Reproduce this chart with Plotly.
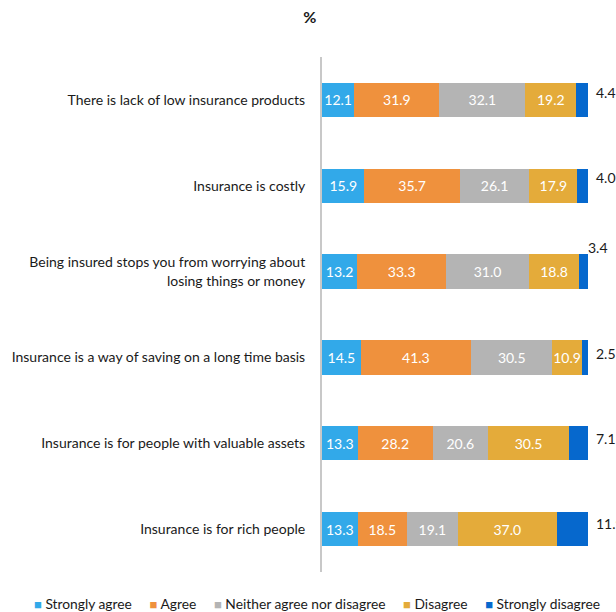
import plotly.graph_objects as go

# Survey statements (top to bottom) and response shares in %
statements = [
    "There is lack of low insurance products",
    "Insurance is costly",
    "Being insured stops you from worrying about<br>losing things or money",
    "Insurance is a way of saving on a long time basis",
    "Insurance is for people with valuable assets",
    "Insurance is for rich people",
]
strongly_agree = [12.1, 15.9, 13.2, 14.5, 13.3, 13.3]
agree = [31.9, 35.7, 33.3, 41.3, 28.2, 18.5]
neither = [32.1, 26.1, 31.0, 30.5, 20.6, 19.1]
disagree = [19.2, 17.9, 18.8, 10.9, 30.5, 37.0]
strongly_disagree = [4.4, 4.0, 3.4, 2.5, 7.1, 11.9]

series_names = ["Strongly agree", "Agree", "Neither agree nor disagree",
                "Disagree", "Strongly disagree"]
series_values = [strongly_agree, agree, neither, disagree, strongly_disagree]
series_colors = ["#32a9e9", "#ef913d", "#b4b4b4", "#e4ab3a", "#0668cd"]

FONT = "Lato, 'Open Sans', sans-serif"
TEXT = "#1a1a1a"

fig = go.Figure()
for i, (name, vals, col) in enumerate(zip(series_names, series_values, series_colors)):
    inside = i < 4
    fig.add_trace(go.Bar(
        y=statements,
        x=vals,
        name=name,
        orientation="h",
        marker=dict(color=col, line=dict(width=0)),
        text=[f"{v:.1f}" for v in vals] if inside else None,
        textposition="inside" if inside else "none",
        insidetextanchor="middle",
        constraintext="none",
        textangle=0,
        textfont=dict(color="white", size=14, family=FONT),
        hoverinfo="x+name",
        showlegend=False,
    ))

# Small "strongly disagree" shares are labelled just past the bar end
label_shift = [(6, 7), (6, 8), (-2, 24), (6, 4), (6, 5), (6, 6)]
for stmt, sd, parts, (dx, dy) in zip(statements, strongly_disagree,
                                     zip(strongly_agree, agree, neither, disagree),
                                     label_shift):
    fig.add_annotation(
        x=sum(parts) + sd, y=stmt, text=f"{sd:.1f}",
        xanchor="left", yanchor="middle", showarrow=False,
        xshift=dx, yshift=dy,
        font=dict(size=14, color=TEXT, family=FONT),
    )

# Compact one-line key below the chart: coloured square + series name
key_items = [
    f"<span style='color:{col};font-size:13px'>■</span>&nbsp;{name}"
    for name, col in zip(series_names, series_colors)
]
fig.add_annotation(
    xref="paper", yref="paper", x=0.0, y=-0.062, xshift=-5,
    xanchor="center", yanchor="middle", showarrow=False,
    text="&nbsp;&nbsp;&nbsp;&nbsp;&nbsp;".join(key_items),
    font=dict(size=13.8, color=TEXT, family=FONT),
)

fig.update_layout(
    barmode="stack",
    bargap=0.6,
    width=616, height=612,
    margin=dict(l=317, r=27, t=57, b=40),
    paper_bgcolor="white", plot_bgcolor="white",
    font=dict(family=FONT, size=14, color=TEXT),
    title=dict(text="%", x=0.503, xanchor="center", y=0.972, yanchor="middle",
               font=dict(size=16, family=FONT, color=TEXT, weight="bold")),
    showlegend=False,
    xaxis=dict(range=[0, 100], visible=False, showgrid=False, zeroline=False),
    yaxis=dict(categoryorder="array", categoryarray=statements, autorange="reversed",
               showline=True, linecolor="#c8c8c8", linewidth=2,
               ticks="", ticklabelstandoff=12, showgrid=False,
               tickfont=dict(size=14, family=FONT, color=TEXT)),
)

fig.write_html("out.html")
